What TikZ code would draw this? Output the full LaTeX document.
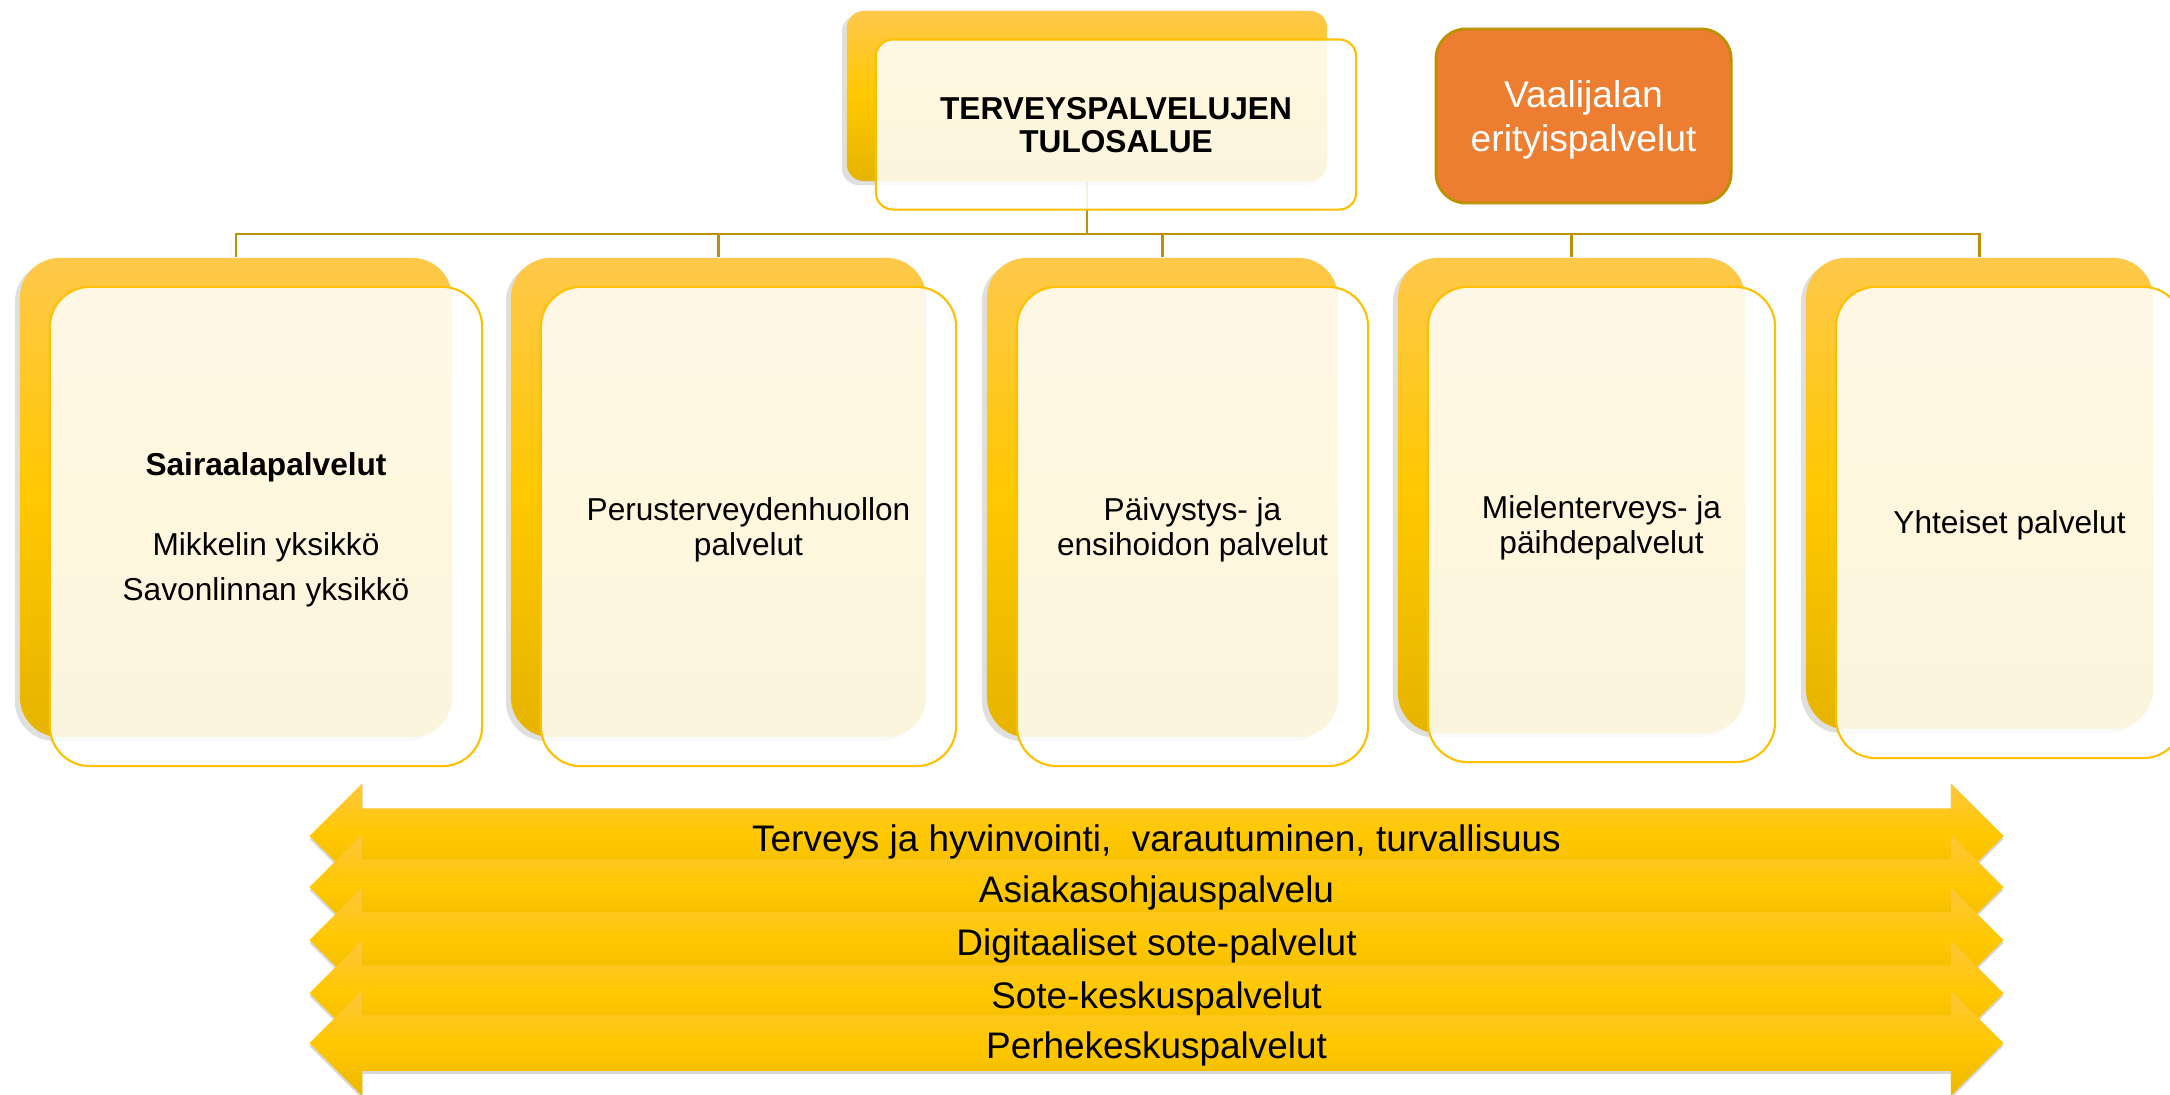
\documentclass[tikz,border=0pt]{standalone}
\usepackage{fontspec}
\setmainfont{Liberation Sans}
\usepackage{tikz}
\usetikzlibrary{shapes.arrows,shadows}

\definecolor{cardtop}{HTML}{FEC84B}
\definecolor{cardmid}{HTML}{FFC800}
\definecolor{cardbot}{HTML}{E6B400}
\definecolor{cardline}{HTML}{FFC000}
\definecolor{linkgold}{HTML}{BF9000}
\definecolor{vaalorange}{HTML}{ED7D31}
\definecolor{bandtop}{HTML}{FFC63C}
\definecolor{bandmid}{HTML}{FFC800}
\definecolor{bandbot}{HTML}{EDB800}

\begin{document}
\begin{tikzpicture}[
    x=0.01cm,
    y=-0.01cm,
    font=\fontsize{9}{9.7}\selectfont,
    backcard/.style={
		rectangle,
		rounded corners=0.4cm,
		inner sep=0pt,
		top color=cardtop,
		bottom color=cardbot,
		middle color=cardmid,
		drop shadow={shadow xshift=-0.05cm, shadow yshift=-0.04cm, opacity=0.25}
	},
	frontcard/.style={
		rectangle,
		rounded corners=0.4cm,
		inner sep=0pt,
		draw=cardline,
		line width=0.6pt,
		fill=white,
		fill opacity=0.87,
		text opacity=1,
		align=center,
		text centered,
		text depth=0pt,
		xshift=0.30cm,
		yshift=-0.29cm
	},
	side/.style={
		rectangle,
		rounded corners=0.3cm,
		draw=linkgold,
		line width=0.8pt,
		fill=vaalorange,
		text=white,
		align=center,
		text depth=0pt,
		minimum width=2.95cm,
		minimum height=1.74cm,
		font=\fontsize{10.6}{12.5}\selectfont
	},
	band/.style={
		double arrow,
		double arrow head extend=0.25cm,
		minimum height=16.93cm,
		minimum width=1.04cm,
		inner ysep=0pt,
		text height=0.42cm,
		text depth=0.12cm,
		top color=bandtop,
		bottom color=bandbot,
		middle color=bandmid,
		drop shadow={shadow xshift=0cm, shadow yshift=-0.03cm, opacity=0.3},
		font=\fontsize{10.5}{12}\selectfont
	},
	conn/.style={
		draw=linkgold,
		line width=0.8pt
	}
  ]

 \path [use as bounding box, fill=white] (0,0) rectangle (2170,1094);

% // top of the tree
 \node [backcard, rounded corners=0.17cm, minimum width=4.80cm, minimum height=1.70cm] (topb) at (1087,96) {};
 \coordinate (bus) at (1087,234);

% // the five result units
 \node [backcard, minimum width=4.32cm, minimum height=4.79cm] (c1b) at (236,497.5) {};
 \node [backcard, minimum width=4.15cm, minimum height=4.79cm] (c2b) at (718.5,497.5) {};
 \node [backcard, minimum width=3.51cm, minimum height=4.79cm] (c3b) at (1162.5,497.5) {};
 \node [backcard, minimum width=3.47cm, minimum height=4.75cm] (c4b) at (1571.5,495.5) {};
 \node [backcard, minimum width=3.47cm, minimum height=4.71cm] (c5b) at (1979.5,493.5) {};

 \draw [conn] (topb.south) -- (bus);
 \draw [conn] (bus) -| (c1b.north);
 \draw [conn] (bus) -| (c2b.north);
 \draw [conn] (bus) -| (c3b.north);
 \draw [conn] (bus) -| (c4b.north);
 \draw [conn] (bus) -| (c5b.north);

 \node [frontcard, rounded corners=0.17cm, minimum width=4.80cm, minimum height=1.70cm,
   xshift=-0.01cm, yshift=0.005cm,
   font=\fontsize{9}{9.4}\selectfont\bfseries] (topf) at (topb)
 {TERVEYSPALVELUJEN\\TULOSALUE};

 \node [side] (vaal) at (1583.5,116) {Vaalijalan\\erityispalvelut};

 \node [frontcard, minimum width=4.32cm, minimum height=4.79cm,
   font=\fontsize{9}{12.8}\selectfont] (c1) at (c1b)
 {\textbf{Sairaalapalvelut}\\[10pt]Mikkelin yksikkö\\Savonlinnan yksikkö};
 \node [frontcard, minimum width=4.15cm, minimum height=4.79cm] (c2) at (c2b)
 {Perusterveydenhuollon\\palvelut};
 \node [frontcard, minimum width=3.51cm, minimum height=4.79cm] (c3) at (c3b)
 {Päivystys- ja\\ensihoidon palvelut};
 \node [frontcard, minimum width=3.47cm, minimum height=4.75cm] (c4) at (c4b)
 {Mielenterveys- ja\\päihdepalvelut};
 \node [frontcard, minimum width=3.47cm, minimum height=4.71cm] (c5) at (c5b)
 {Yhteiset palvelut};

% // the cross-cutting services
 \node [band] (band1) at (1156.5,836) {Terveys ja hyvinvointi,\ \ varautuminen, turvallisuus};
 \node [band, yshift=-0.51cm] (band2) at (band1) {Asiakasohjauspalvelu};
 \node [band, yshift=-0.53cm] (band3) at (band2) {Digitaaliset sote-palvelut};
 \node [band, yshift=-0.53cm] (band4) at (band3) {Sote-keskuspalvelut};
 \node [band, yshift=-0.50cm] (band5) at (band4) {Perhekeskuspalvelut};

\end{tikzpicture}
\end{document}
